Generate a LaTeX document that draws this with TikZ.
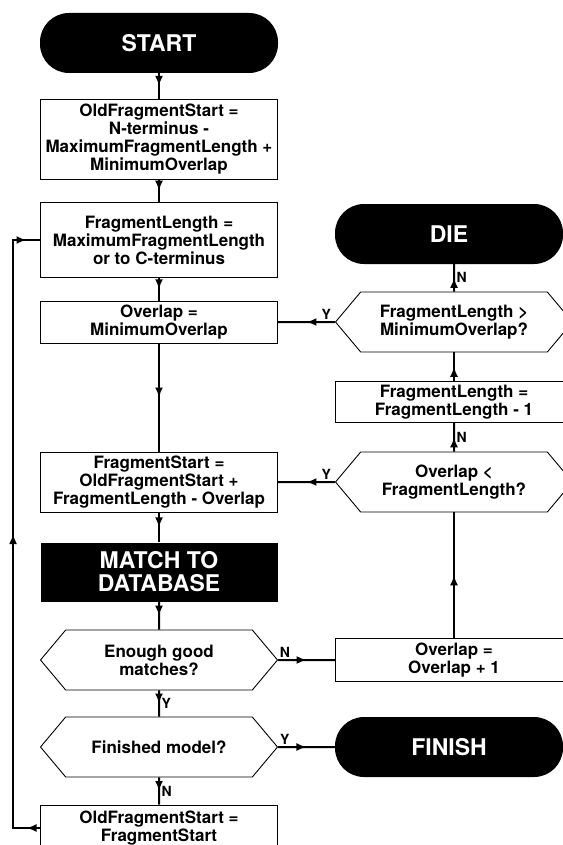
\documentclass[tikz,border=0pt]{standalone}
\usepackage{fontspec}
\setmainfont{TeX Gyre Heros}
\usetikzlibrary{positioning, shapes.symbols, arrows.meta, decorations.markings}
\newcommand{\bodyfont}{\fontsize{17}{18}\selectfont\bfseries}
\newcommand{\bigfont}{\fontsize{23}{23}\selectfont\bfseries}
\newcommand{\ynfont}{\fontsize{14}{14}\selectfont\bfseries}
\tikzset{
    procbox/.style = {draw, line width=0.9pt, rectangle, align=center, minimum width=237pt, inner sep=2pt, font=\bodyfont},
    termbox/.style = {fill=black, text=white, rectangle, rounded corners=29pt, minimum width=238pt, minimum height=60pt, font=\bigfont},
    blockbox/.style = {fill=black, text=white, rectangle, align=center, minimum width=237pt, minimum height=59pt, font=\bigfont},
    decision/.style = {draw, line width=0.9pt, signal, signal to=west and east, signal pointer angle=100, align=center, minimum width=237pt, minimum height=60pt, inner sep=2pt, font=\bodyfont},
}
\tikzset{
    flow/.style = {line width=2pt, postaction={decorate},
        decoration={markings, mark=at position 0.5 with {\arrow{Latex[length=10pt,width=8pt]}}}},
    yn/.style = {font=\ynfont, inner sep=1.5pt},
}

\begin{document}
\begin{tikzpicture}[x=1pt, y=1pt, every node/.style=on grid]
    \useasboundingbox (0,0) rectangle (562,-845);
    % main column
    \node[termbox] (start) at (159,-43) {START};
    \node[procbox, minimum height=80pt] (oldstart) [below=96pt of start] {OldFragmentStart =\\N-terminus -\\MaximumFragmentLength +\\MinimumOverlap};
    \node[procbox, minimum height=75pt] (fraglen) [below=101pt of oldstart] {FragmentLength =\\MaximumFragmentLength\\or to C-terminus};
    \node[procbox, minimum height=42pt] (overlap) [below=82pt of fraglen] {Overlap =\\MinimumOverlap};
    \node[procbox, minimum height=60pt] (fragstart) [below=160pt of overlap] {FragmentStart =\\OldFragmentStart +\\FragmentLength - Overlap};
    \node[blockbox] (match) [below=90pt of fragstart] {MATCH TO\\DATABASE};
    \node[decision] (enough) [below=88pt of match] {Enough good\\matches?};
    \node[decision] (finished) [below=87pt of enough] {Finished model?};
    \node[procbox, minimum height=46pt] (newstart) [below=81pt of finished] {OldFragmentStart =\\FragmentStart};

    % right column
    \node[decision] (longer) [right=295pt of overlap] {FragmentLength >\\MinimumOverlap?};
    \node[termbox, minimum width=228pt] (die) [above=88pt of longer, xshift=-5pt] {DIE};
    \node[procbox, minimum height=41pt] (shorten) [below=80pt of longer] {FragmentLength =\\FragmentLength - 1};
    \node[decision] (smaller) [right=295pt of fragstart] {Overlap <\\FragmentLength?};
    \node[procbox, minimum height=43pt] (grow) [right=295pt of enough] {Overlap =\\Overlap + 1};
    \node[termbox, minimum width=228pt] (finish) [right=290pt of finished] {FINISH};

    \draw[flow] (start) -- (oldstart);
    \draw[flow] (oldstart) -- (fraglen);
    \draw[flow] (fraglen) -- (overlap);
    \draw[flow] (overlap) -- (fragstart);
    \draw[flow] (fragstart) -- (match);
    \draw[flow] (match) -- (enough);
    \draw[flow] (enough) -- node[yn, right] {Y} (finished);
    \draw[flow] (finished) -- node[yn, right] {N} (newstart);
    \draw[flow] (enough) -- node[yn, above, pos=0.12] {N} (grow);
    \draw[flow] (finished) -- node[yn, above, pos=0.12] {Y} (finish);
    \draw[flow] (grow) -- (smaller);
    \draw[flow] (smaller) -- node[yn, right] {N} (shorten);
    \draw[flow] (shorten) -- (longer);
    \draw[flow] (longer) -- node[yn, right] {N} (longer |- die.south);
    \draw[flow] (longer) -- node[yn, above, pos=0.15] {Y} (overlap);
    \draw[flow] (smaller) -- node[yn, above, pos=0.15] {Y} (fragstart);

    % loop back
    \coordinate (loopbot) at ([xshift=-27pt]newstart.west);
    \coordinate (looptop) at (loopbot |- fraglen.west);
    \draw[flow, line cap=rect] (newstart.west) -- (loopbot);
    \draw[flow, line cap=rect] (loopbot) -- (looptop);
    \draw[flow, line cap=rect] (looptop) -- (fraglen.west);
\end{tikzpicture}
\end{document}
